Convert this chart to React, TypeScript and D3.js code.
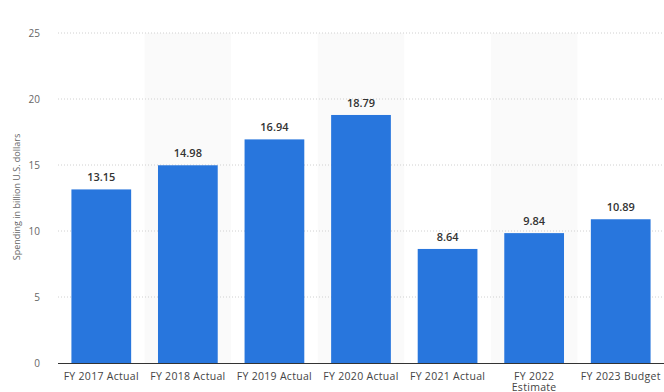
import React from "react";
import * as d3 from "d3";

const categories = ["FY 2017 Actual", "FY 2018 Actual", "FY 2019 Actual", "FY 2020 Actual", "FY 2021 Actual", "FY 2022 Estimate", "FY 2023 Budget"];
const labelLines = [["FY 2017 Actual"], ["FY 2018 Actual"], ["FY 2019 Actual"], ["FY 2020 Actual"], ["FY 2021 Actual"], ["FY 2022", "Estimate"], ["FY 2023 Budget"]];
const values = [13.15, 14.98, 16.94, 18.79, 8.64, 9.84, 10.89];
const yTicks = [0, 5, 10, 15, 20, 25];

const W = 664, H = 392;
const left = 58, right = 664, top = 33, bottom = 363;

export default function App() {
  const x = d3.scaleBand<string>().domain(categories).range([left, right]).padding(0);
  const y = d3.scaleLinear().domain([0, 25]).range([bottom, top]);
  const bw = x.bandwidth() * 0.69;
  const font = "'Open Sans', 'Noto Sans', sans-serif";
  return (
    <svg width={W} height={H} style={{ position: "absolute", left: 0, top: 0, background: "#fff" }}>
      {categories.map((c, i) =>
        i % 2 === 1 ? (
          <rect key={"s" + c} x={x(c)} y={top} width={x.bandwidth()} height={bottom - top} fill="#fafafa" />
        ) : null
      )}
      {yTicks.map((t) => (
        <g key={"t" + t}>
          {t > 0 && (
            <line x1={left} x2={right} y1={y(t)} y2={y(t)} stroke="#d0d0d0" strokeWidth={1} strokeDasharray="1,2" />
          )}
          <text x={40} y={y(t) + 4} textAnchor="end" fontFamily={font} fontSize={10} fill="#666">
            {t}
          </text>
        </g>
      ))}
      {categories.map((c, i) => {
        const cx = (x(c) as number) + x.bandwidth() / 2;
        return (
          <g key={c}>
            <rect x={cx - bw / 2} y={y(values[i])} width={bw} height={bottom - y(values[i])} fill="#2876dd" />
            <text x={cx} y={y(values[i]) - 8} textAnchor="middle" fontFamily={font} fontSize={11} fontWeight={600} fill="#333">
              {values[i].toFixed(2)}
            </text>
            <text x={cx} y={380} textAnchor="middle" fontFamily={font} fontSize={10.5} fill="#444" letterSpacing={0.3}>
              {labelLines[i].map((l, j) => (
                <tspan key={j} x={cx} dy={j === 0 ? 0 : 11}>
                  {l}
                </tspan>
              ))}
            </text>
          </g>
        );
      })}
      <line x1={left} x2={right} y1={bottom + 0.5} y2={bottom + 0.5} stroke="#333" strokeWidth={1} />
      <text
        transform={`translate(20, 197) rotate(-90)`}
        textAnchor="middle"
        fontFamily={font}
        fontSize={9}
        fill="#666"
      >
        Spending in billion U.S. dollars
      </text>
    </svg>
  );
}
